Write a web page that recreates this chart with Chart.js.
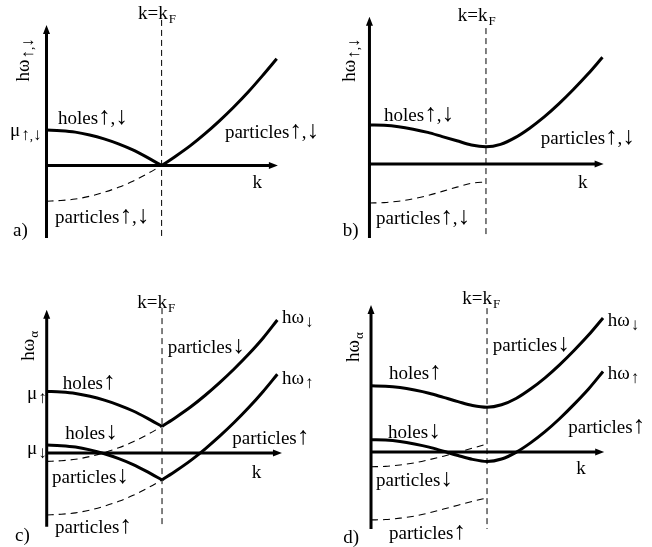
<!DOCTYPE html>
<html>
<head>
<meta charset="utf-8">
<script src="https://cdn.jsdelivr.net/npm/chart.js@4.4.0/dist/chart.umd.min.js"></script>
<style>
    body { margin: 0; background: #fff; }
    #page { position: relative; width: 652px; height: 547px; }
    canvas { position: absolute; }
</style>
</head>
<body>
<div id="page">
    <canvas id="panelA" width="326" height="250" style="left:0;top:0"></canvas>
    <canvas id="panelB" width="326" height="250" style="left:326px;top:0"></canvas>
    <canvas id="panelC" width="326" height="297" style="left:0;top:250px"></canvas>
    <canvas id="panelD" width="326" height="297" style="left:326px;top:250px"></canvas>
</div>
<script>
// k in units of k_F, energies in units of mu
const kInner = [0, 0.125, 0.25, 0.375, 0.5, 0.625, 0.75, 0.875, 1];
const kOuter = [1, 1.125, 1.25, 1.375, 1.5, 1.625, 1.75, 1.875, 2];
const kFull = [0, 0.125, 0.25, 0.375, 0.5, 0.625, 0.75, 0.875, 1,
               1.125, 1.25, 1.375, 1.5, 1.625, 1.75, 1.875, 2];

// a) normal state
const aHoles = [1.00, 0.98, 0.94, 0.86, 0.75, 0.61, 0.44, 0.23, 0];
const aParticles = [0, 0.27, 0.56, 0.89, 1.25, 1.64, 2.06, 2.52, 3.00];
const aMirror = [-1.00, -0.98, -0.94, -0.86, -0.75, -0.61, -0.44, -0.23, 0];

// b) gapped
const bBranch = [1.11, 1.10, 1.06, 0.99, 0.90, 0.78, 0.66, 0.54, 0.49,
                 0.56, 0.75, 1.02, 1.34, 1.71, 2.12, 2.56, 3.04];
const bMirror = [-1.11, -1.10, -1.06, -0.99, -0.90, -0.78, -0.66, -0.55, -0.51];

// c) polarized, no gap
const cHolesUp = [1.76, 1.74, 1.70, 1.62, 1.51, 1.37, 1.20, 0.99, 0.76];
const cParticlesDown = [0.76, 1.03, 1.32, 1.65, 2.01, 2.40, 2.82, 3.28, 3.80];
const cHolesDown = [0.23, 0.21, 0.17, 0.09, -0.02, -0.16, -0.33, -0.54, -0.77];
const cParticlesUp = [-0.77, -0.50, -0.21, 0.12, 0.48, 0.87, 1.29, 1.75, 2.25];
const cMirrorDown = [-0.24, -0.22, -0.18, -0.10, 0.01, 0.15, 0.32, 0.53, 0.76];
const cMirrorUp = [-1.77, -1.75, -1.71, -1.63, -1.52, -1.38, -1.21, -1.00, -0.77];

// d) polarized with gap
const dBranchDown = [1.89, 1.88, 1.84, 1.77, 1.68, 1.56, 1.44, 1.33, 1.28,
                     1.35, 1.53, 1.80, 2.12, 2.49, 2.90, 3.34, 3.83];
const dBranchUp = [0.35, 0.34, 0.30, 0.23, 0.14, 0.02, -0.10, -0.21, -0.27,
                   -0.20, -0.01, 0.26, 0.58, 0.95, 1.36, 1.80, 2.30];
const dMirrorDown = [-0.42, -0.41, -0.37, -0.31, -0.22, -0.12, -0.01, 0.11, 0.23];
const dMirrorUp = [-1.94, -1.93, -1.89, -1.83, -1.74, -1.63, -1.52, -1.41, -1.31];

const FONT = '"Liberation Serif", "Times New Roman", serif';
const TEXT_SIZE = 19;
const SUB_SIZE = 13;

function curve(ks, vals, dashed) {
    return {
        data: ks.map((k, i) => ({ x: k, y: vals[i] })),
        borderColor: '#000',
        borderWidth: dashed ? 1.1 : 3,
        borderDash: dashed ? [7, 5] : [],
        cubicInterpolationMode: 'monotone',
        pointRadius: 0,
        fill: false
    };
}

// split a string so the spin arrows can be set a bit larger than the letters
function runs(str, size) {
    return str.split(/([↑↓])/).filter(s => s).map(s => ({
        s: s,
        font: (/[↑↓]/.test(s) ? Math.round(size * 1.3) : size) + 'px ' + FONT
    }));
}

function drawText(ctx, lbl) {
    const parts = runs(lbl.text, TEXT_SIZE).map(r => Object.assign(r, { dy: 6 }));
    if (lbl.sub) {
        runs(lbl.sub, SUB_SIZE).forEach((r, i) =>
            parts.push(Object.assign(r, { dy: 10, gap: i === 0 ? 1 : 0 })));
    }
    let total = 0;
    parts.forEach(p => {
        ctx.font = p.font;
        p.w = ctx.measureText(p.s).width;
        total += p.w + (p.gap || 0);
    });
    let x = lbl.align === 'center' ? -total / 2 : 0;
    ctx.textAlign = 'left';
    ctx.textBaseline = 'alphabetic';
    parts.forEach(p => {
        x += p.gap || 0;
        ctx.font = p.font;
        ctx.fillText(p.s, x, p.dy);
        x += p.w;
    });
}

// axes with arrows, the dashed k = k_F marker and the text labels
const sketchPlugin = {
    id: 'sketch',
    afterDatasetsDraw(chart, args, opts) {
        const ctx = chart.ctx;
        const xs = chart.scales.x, ys = chart.scales.y;
        const px = v => xs.getPixelForValue(v);
        const py = v => ys.getPixelForValue(v);
        ctx.save();
        ctx.strokeStyle = '#000';
        ctx.fillStyle = '#000';

        // k = k_F
        ctx.lineWidth = 1;
        ctx.setLineDash([6, 4]);
        ctx.beginPath();
        ctx.moveTo(px(1), py(opts.kfTop));
        ctx.lineTo(px(1), py(opts.yBottom));
        ctx.stroke();
        ctx.setLineDash([]);

        // axes
        const ax = px(0), ay = py(0);
        const top = py(opts.yTop), right = px(opts.xTip);
        ctx.lineWidth = 3;
        ctx.beginPath();
        ctx.moveTo(ax, py(opts.yBottom));
        ctx.lineTo(ax, top + 6);
        ctx.moveTo(ax, ay);
        ctx.lineTo(right - 6, ay);
        ctx.stroke();
        ctx.beginPath();
        ctx.moveTo(ax, top);
        ctx.lineTo(ax - 3.5, top + 9);
        ctx.lineTo(ax + 3.5, top + 9);
        ctx.closePath();
        ctx.moveTo(right, ay);
        ctx.lineTo(right - 9, ay - 3.5);
        ctx.lineTo(right - 9, ay + 3.5);
        ctx.closePath();
        ctx.fill();

        opts.labels.forEach(lbl => {
            ctx.save();
            ctx.translate(px(lbl.k), py(lbl.e));
            if (lbl.rotate) ctx.rotate(-Math.PI / 2);
            drawText(ctx, lbl.rotate ? Object.assign({ align: 'center' }, lbl) : lbl);
            ctx.restore();
        });
        ctx.restore();
    }
};

function makePanel(id, datasets, xRange, yRange, sketch) {
    return new Chart(document.getElementById(id), {
        type: 'line',
        data: { datasets: datasets },
        options: {
            responsive: false,
            animation: false,
            events: [],
            layout: { padding: 0 },
            plugins: {
                legend: { display: false },
                tooltip: { enabled: false },
                sketch: sketch
            },
            scales: {
                x: { type: 'linear', display: false, min: xRange[0], max: xRange[1] },
                y: { type: 'linear', display: false, min: yRange[0], max: yRange[1] }
            }
        },
        plugins: [sketchPlugin]
    });
}

makePanel('panelA', [
    curve(kInner, aHoles, false),
    curve(kOuter, aParticles, false),
    curve(kInner, aMirror, true)
], [-0.404, 2.428], [-2.37, 4.65], {
    yTop: 3.95, yBottom: -2.03, xTip: 2.01, kfTop: 4.09,
    labels: [
        { text: 'k=k', sub: 'F', k: 0.96, e: 4.29, align: 'center' },
        { text: 'hω', sub: '↑,↓', k: -0.204, e: 2.97, rotate: true },
        { text: 'μ', sub: '↑,↓', k: -0.317, e: 1.0 },
        { text: 'holes↑,↓', k: 0.10, e: 1.34 },
        { text: 'particles↑,↓', k: 1.55, e: 0.94 },
        { text: 'particles↑,↓', k: 0.074, e: -1.44 },
        { text: 'k', k: 1.83, e: -0.46, align: 'center' },
        { text: 'a)', k: -0.29, e: -1.81 }
    ]
});

makePanel('panelB', [
    curve(kFull, bBranch, false),
    curve(kInner, bMirror, true)
], [-0.373, 2.425], [-2.45, 4.67], {
    yTop: 4.19, yBottom: -2.11, xTip: 2.01, kfTop: 3.87,
    labels: [
        { text: 'k=k', sub: 'F', k: 0.92, e: 4.25, align: 'center' },
        { text: 'hω', sub: '↑,↓', k: -0.176, e: 2.96, rotate: true },
        { text: 'holes↑,↓', k: 0.125, e: 1.40 },
        { text: 'particles↑,↓', k: 1.47, e: 0.74 },
        { text: 'particles↑,↓', k: 0.056, e: -1.54 },
        { text: 'k', k: 1.83, e: -0.51, align: 'center' },
        { text: 'b)', k: -0.23, e: -1.88 }
    ]
});

makePanel('panelC', [
    curve(kInner, cHolesUp, false),
    curve(kOuter, cParticlesDown, false),
    curve(kInner, cHolesDown, false),
    curve(kOuter, cParticlesUp, false),
    curve(kInner, cMirrorDown, true),
    curve(kInner, cMirrorUp, true)
], [-0.405, 2.422], [-2.686, 5.8], {
    yTop: 4.09, yBottom: -2.11, xTip: 2.04, kfTop: 4.14,
    labels: [
        { text: 'k=k', sub: 'F', k: 0.95, e: 4.31, align: 'center' },
        { text: 'hω', sub: 'α', k: -0.162, e: 3.06, rotate: true },
        { text: 'μ', sub: '↑', k: -0.171, e: 1.71 },
        { text: 'μ', sub: '↓', k: -0.171, e: 0.14 },
        { text: 'hω', sub: '↓', k: 2.04, e: 3.89 },
        { text: 'hω', sub: '↑', k: 2.04, e: 2.14 },
        { text: 'particles↓', k: 1.05, e: 3.03 },
        { text: 'holes↑', k: 0.14, e: 2.0 },
        { text: 'holes↓', k: 0.16, e: 0.57 },
        { text: 'particles↑', k: 1.61, e: 0.43 },
        { text: 'k', k: 1.82, e: -0.54, align: 'center' },
        { text: 'particles↓', k: 0.046, e: -0.69 },
        { text: 'particles↑', k: 0.072, e: -2.11 },
        { text: 'c)', k: -0.275, e: -2.34 }
    ]
});

makePanel('panelD', [
    curve(kFull, dBranchDown, false),
    curve(kFull, dBranchUp, false),
    curve(kInner, dMirrorDown, true),
    curve(kInner, dMirrorUp, true)
], [-0.388, 2.422], [-2.714, 5.771], {
    yTop: 4.2, yBottom: -2.2, xTip: 2.01, kfTop: 4.11,
    labels: [
        { text: 'k=k', sub: 'F', k: 0.95, e: 4.4, align: 'center' },
        { text: 'hω', sub: 'α', k: -0.155, e: 3.0, rotate: true },
        { text: 'hω', sub: '↓', k: 2.04, e: 3.77 },
        { text: 'hω', sub: '↑', k: 2.04, e: 2.26 },
        { text: 'particles↓', k: 1.05, e: 3.06 },
        { text: 'holes↑', k: 0.155, e: 2.26 },
        { text: 'holes↓', k: 0.147, e: 0.57 },
        { text: 'particles↑', k: 1.70, e: 0.71 },
        { text: 'k', k: 1.81, e: -0.46, align: 'center' },
        { text: 'particles↓', k: 0.043, e: -0.8 },
        { text: 'particles↑', k: 0.155, e: -2.31 },
        { text: 'd)', k: -0.24, e: -2.43 }
    ]
});
</script>
</body>
</html>
